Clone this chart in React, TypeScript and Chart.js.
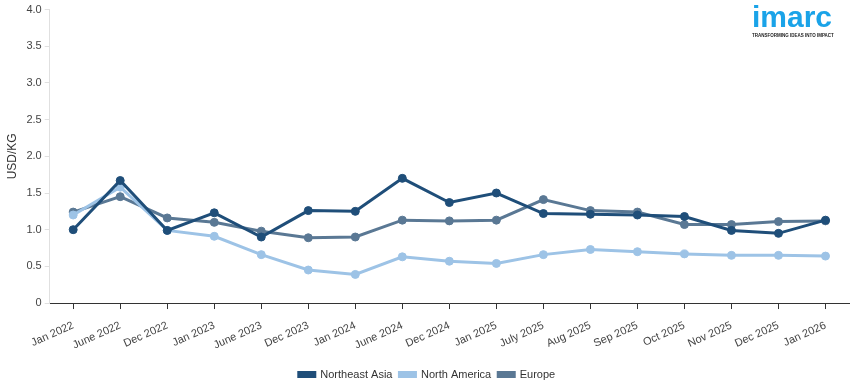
import React, { useEffect, useRef } from "react";
import { Chart, registerables } from "chart.js";

Chart.register(...registerables);

const categories = ["Jan 2022", "June 2022", "Dec 2022", "Jan 2023", "June 2023", "Dec 2023", "Jan 2024", "June 2024", "Dec 2024", "Jan 2025", "July 2025", "Aug 2025", "Sep 2025", "Oct 2025", "Nov 2025", "Dec 2025", "Jan 2026"];
const northeastAsia = [1.0, 1.67, 0.99, 1.23, 0.9, 1.26, 1.25, 1.7, 1.37, 1.5, 1.22, 1.21, 1.2, 1.18, 0.99, 0.95, 1.13];
const northAmerica = [1.2, 1.58, 0.99, 0.91, 0.66, 0.45, 0.39, 0.63, 0.57, 0.54, 0.66, 0.73, 0.7, 0.67, 0.65, 0.65, 0.64];
const europe = [1.24, 1.45, 1.16, 1.1, 0.98, 0.89, 0.9, 1.13, 1.12, 1.13, 1.41, 1.26, 1.24, 1.07, 1.07, 1.11, 1.12];
const yTicks = [0, 0.5, 1.0, 1.5, 2.0, 2.5, 3.0, 3.5, 4.0];

const colors = { ne: "#1f4e79", na: "#9dc3e6", eu: "#5a7894" };
const FONT = "Liberation Sans, Arial, sans-serif";

export default function App() {
  const ref = useRef<HTMLCanvasElement>(null);
  useEffect(() => {
    if (!ref.current) return;
    const mk = (label: string, data: number[], c: string) => ({
      label,
      data,
      borderColor: c,
      backgroundColor: c,
      pointBackgroundColor: c,
      pointBorderColor: c,
      borderWidth: 3,
      pointRadius: 4,
      pointBorderWidth: 1,
      tension: 0,
    });
    const chart = new Chart(ref.current, {
      type: "line",
      data: {
        labels: categories,
        datasets: [
          mk("Northeast Asia", northeastAsia, colors.ne),
          mk("North America", northAmerica, colors.na),
          mk("Europe", europe, colors.eu),
        ],
      },
      options: {
        animation: false,
        responsive: false,
        maintainAspectRatio: false,
        layout: { padding: { left: 5, right: 6, top: 4, bottom: 0 } },
        plugins: {
          legend: {
            position: "bottom",
            labels: {
              boxWidth: 16,
              boxHeight: 4,
              padding: 7,
              color: "#333",
              font: { family: FONT, size: 11 },
            },
          },
          tooltip: { enabled: false },
        },
        scales: {
          x: {
            offset: true,
            grid: { display: true, drawOnChartArea: false, tickLength: 6, tickColor: "#333" },
            border: { color: "#333", width: 1 },
            ticks: {
              minRotation: 24,
              maxRotation: 24,
              autoSkip: false,
              padding: 10,
              color: "#444",
              font: { family: FONT, size: 11 },
            },
          },
          y: {
            min: 0,
            max: 4,
            afterBuildTicks: (axis: any) => {
              axis.ticks = yTicks.map((v) => ({ value: v }));
            },
            grid: { display: true, drawOnChartArea: false, tickLength: 5, tickColor: "#e0e0e0" },
            border: { color: "#e0e0e0", width: 1 },
            ticks: {
              color: "#444",
              font: { family: FONT, size: 11 },
              callback: (v: any) => (Number(v) === 0 ? "0" : Number(v).toFixed(1)),
            },
            title: {
              display: true,
              text: "USD/KG",
              color: "#333",
              font: { family: FONT, size: 12 },
              padding: { top: 0, bottom: 4 },
            },
          },
        },
      },
    });
    return () => chart.destroy();
  }, []);

  return (
    <div style={{ position: "fixed", left: 0, top: 0, width: 855, height: 390, background: "#fff" }}>
      <canvas ref={ref} width={855} height={390} style={{ width: 855, height: 390 }} />
      <div style={{ position: "absolute", left: 752, top: 1, width: 84, fontFamily: FONT }}>
        <div style={{ color: "#1aa3e8", fontSize: 30, fontWeight: 700, lineHeight: "32px", letterSpacing: 0 }}>imarc</div>
        <div style={{ color: "#222", fontSize: 4.5, fontWeight: 700, lineHeight: "5px", whiteSpace: "nowrap" }}>TRANSFORMING IDEAS INTO IMPACT</div>
      </div>
    </div>
  );
}
